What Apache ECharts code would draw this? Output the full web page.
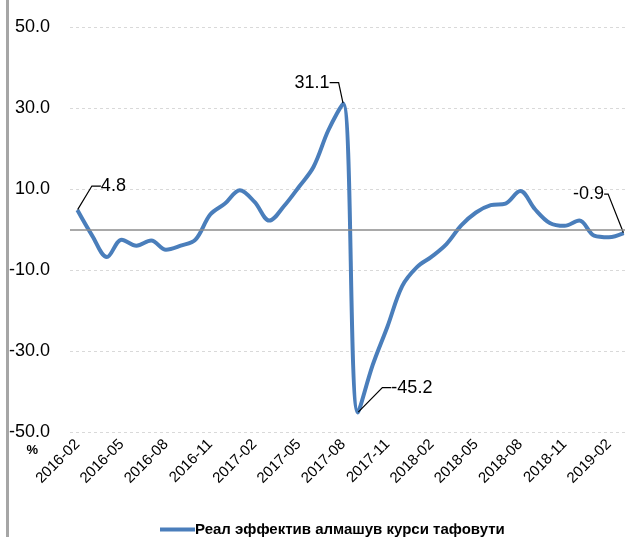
<!DOCTYPE html>
<html>
<head>
<meta charset="utf-8">
<script src="https://cdn.jsdelivr.net/npm/echarts@6/dist/echarts.min.js"></script>
<style>
html,body{margin:0;padding:0;background:#fff;}
#chart{width:625px;height:537px;}
</style>
</head>
<body>
<div id="chart"></div>
<script>
const categories = [
  '2016-02','2016-03','2016-04','2016-05','2016-06','2016-07','2016-08','2016-09','2016-10','2016-11','2016-12',
  '2017-01','2017-02','2017-03','2017-04','2017-05','2017-06','2017-07','2017-08','2017-09','2017-10','2017-11','2017-12',
  '2018-01','2018-02','2018-03','2018-04','2018-05','2018-06','2018-07','2018-08','2018-09','2018-10','2018-11','2018-12',
  '2019-01','2019-02','2019-03'
];
const values = [
  4.8, -1.5, -6.8, -2.5, -4.0, -2.7, -5.0, -4.0, -2.5, 3.7, 6.4,
  9.7, 6.8, 2.2, 5.8, 10.5, 15.5, 24.5, 31.1, -45.2, -33.5, -24.0, -14.0,
  -9.3, -6.7, -3.6, 1.0, 4.2, 6.0, 6.4, 9.5, 5.0, 1.6, 0.9, 2.2,
  -1.5, -1.9, -0.9
];
const seriesName = 'Реал эффектив алмашув курси тафовути';
const labelledIndices = [0, 18, 19, 37];

const FONT = '"Liberation Sans", Arial, sans-serif';
const labelOffsets = {0: [36, -24], 18: [-31, -21], 19: [54, -25], 37: [-35, -39]};
const leaderLength = {0: 9, 18: 9, 19: 9, 37: 4};

const seriesData = values.map((v, i) => {
  if (labelledIndices.indexOf(i) >= 0) {
    return {
      value: v,
      label: {show: true, formatter: v.toFixed(1)},
      labelLine: {show: true, length2: leaderLength[i]}
    };
  }
  return v;
});

const chart = echarts.init(document.getElementById('chart'), null, {renderer: 'canvas'});
chart.setOption({
  animation: false,
  backgroundColor: '#fff',
  grid: {left: 70, width: 561, top: 27, bottom: 105, containLabel: false, outerBoundsMode: 'none'},
  xAxis: {
    type: 'category',
    data: categories,
    boundaryGap: true,
    axisLine: {show: false},
    axisTick: {show: false},
    splitLine: {show: false},
    axisLabel: {
      interval: 2,
      rotate: 45,
      margin: 10,
      color: '#000',
      fontFamily: FONT,
      fontSize: 15
    }
  },
  yAxis: {
    type: 'value',
    min: -50,
    max: 50,
    interval: 20,
    axisLine: {show: false},
    axisTick: {show: false},
    axisLabel: {
      margin: 20,
      color: '#000',
      fontFamily: FONT,
      fontSize: 18,
      formatter: v => v.toFixed(1)
    },
    splitLine: {show: true, lineStyle: {color: '#d9d9d9', type: [3, 3], width: 1}},
    name: '%',
    nameLocation: 'start',
    nameGap: 12,
    nameTextStyle: {color: '#000', fontFamily: FONT, fontSize: 13, fontWeight: 'bold', align: 'right', padding: [0, 32, 0, 0]}
  },
  legend: {
    left: 155,
    top: 517,
    icon: 'rect',
    itemWidth: 35,
    itemHeight: 4,
    itemGap: 10,
    textStyle: {color: '#000', fontFamily: FONT, fontSize: 15, fontWeight: 'bold', padding: [0, 0, 0, -5]},
    data: [seriesName]
  },
  graphic: [
    {type: 'rect', left: 6, top: 0, shape: {width: 3, height: 537}, style: {fill: '#a6a6a6'}, z: 100}
  ],
  series: [{
    name: seriesName,
    type: 'line',
    data: seriesData,
    smooth: 0.35,
    showSymbol: true,
    symbol: 'circle',
    symbolSize: 1,
    itemStyle: {color: '#4a7ebb'},
    lineStyle: {color: '#4a7ebb', width: 4},
    label: {
      show: false,
      position: 'top',
      color: '#000',
      fontFamily: FONT,
      fontSize: 18
    },
    labelLine: {show: false, length2: 9, lineStyle: {color: '#000', width: 1.2}},
    labelLayout: function (params) {
      const off = labelOffsets[params.dataIndex];
      if (!off) return {};
      const r = params.rect;
      const cx = r.x + r.width / 2, cy = r.y + r.height / 2;
      const lr = params.labelRect;
      return {x: cx + off[0] - lr.width / 2, y: cy + off[1] - lr.height / 2, align: 'left', verticalAlign: 'top'};
    },
    markLine: {
      silent: true,
      symbol: 'none',
      label: {show: false},
      lineStyle: {color: '#8c8c8c', type: 'solid', width: 1.5},
      data: [{yAxis: 0}]
    }
  }]
});
</script>
</body>
</html>
